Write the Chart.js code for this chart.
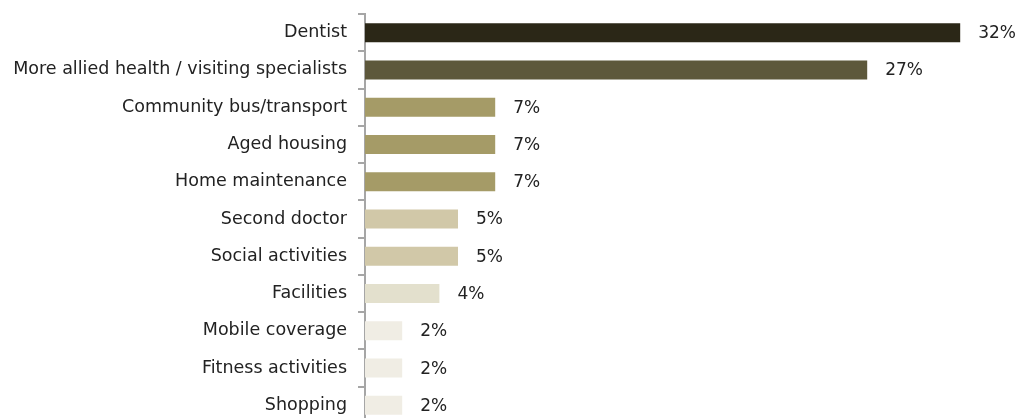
<!DOCTYPE html>
<html>
<head>
<meta charset="utf-8">
<script src="https://cdn.jsdelivr.net/npm/chart.js@4"></script>
<style>
  html, body { margin: 0; padding: 0; background: #fff; overflow: hidden; }
  #wrap { width: 1016px; height: 424px; position: relative; }
</style>
</head>
<body>
<div id="wrap"><canvas id="myChart"></canvas></div>
<script>
// Services the community would like to see, share of responses (%)
const categories = [
    "Dentist",
    "More allied health / visiting specialists",
    "Community bus/transport",
    "Aged housing",
    "Home maintenance",
    "Second doctor",
    "Social activities",
    "Facilities",
    "Mobile coverage",
    "Fitness activities",
    "Shopping"
];
const values = [32, 27, 7, 7, 7, 5, 5, 4, 2, 2, 2];
const barColors = [
    "#2b2717", "#5d583b", "#a59b67", "#a59b67", "#a59b67",
    "#d1c8a8", "#d1c8a8", "#e3e0cd", "#f0ede4", "#f0ede4", "#f0ede4"
];

const fontFamily = "'DejaVu Sans', sans-serif";
const textColor = "#222222";

// Write the value next to the end of each bar
const valueLabels = {
    id: "valueLabels",
    afterDatasetsDraw(chart) {
        const ctx = chart.ctx;
        const meta = chart.getDatasetMeta(0);
        ctx.save();
        ctx.font = "17px " + fontFamily;
        ctx.fillStyle = textColor;
        ctx.textAlign = "left";
        ctx.textBaseline = "middle";
        meta.data.forEach((bar, i) => {
            ctx.fillText(values[i] + "%", bar.x + 18, bar.y + 1);
        });
        ctx.restore();
    }
};

const ctx = document.getElementById("myChart").getContext("2d");
const myChart = new Chart(ctx, {
    type: "bar",
    data: {
        labels: categories,
        datasets: [{
            data: values,
            backgroundColor: barColors,
            borderWidth: 0,
            categoryPercentage: 1,
            barPercentage: 0.51
        }]
    },
    options: {
        indexAxis: "y",
        responsive: true,
        maintainAspectRatio: false,
        animation: false,
        layout: { padding: { top: 14, right: 0, bottom: 0, left: 0 } },
        plugins: {
            legend: { display: false },
            tooltip: { enabled: false }
        },
        scales: {
            x: {
                display: false,
                min: 0,
                max: 35
            },
            y: {
                afterFit(scale) {
                    scale.width = 365;
                    scale.paddingTop = 0;
                    scale.paddingBottom = 0;
                },
                grid: {
                    drawOnChartArea: false,
                    drawTicks: true,
                    tickLength: 7,
                    color: "#a6a6a6",
                    lineWidth: 2
                },
                border: { color: "#a6a6a6", width: 2 },
                ticks: {
                    padding: 11,
                    color: textColor,
                    font: { family: fontFamily, size: 17.5 }
                }
            }
        }
    },
    plugins: [valueLabels]
});
</script>
</body>
</html>
